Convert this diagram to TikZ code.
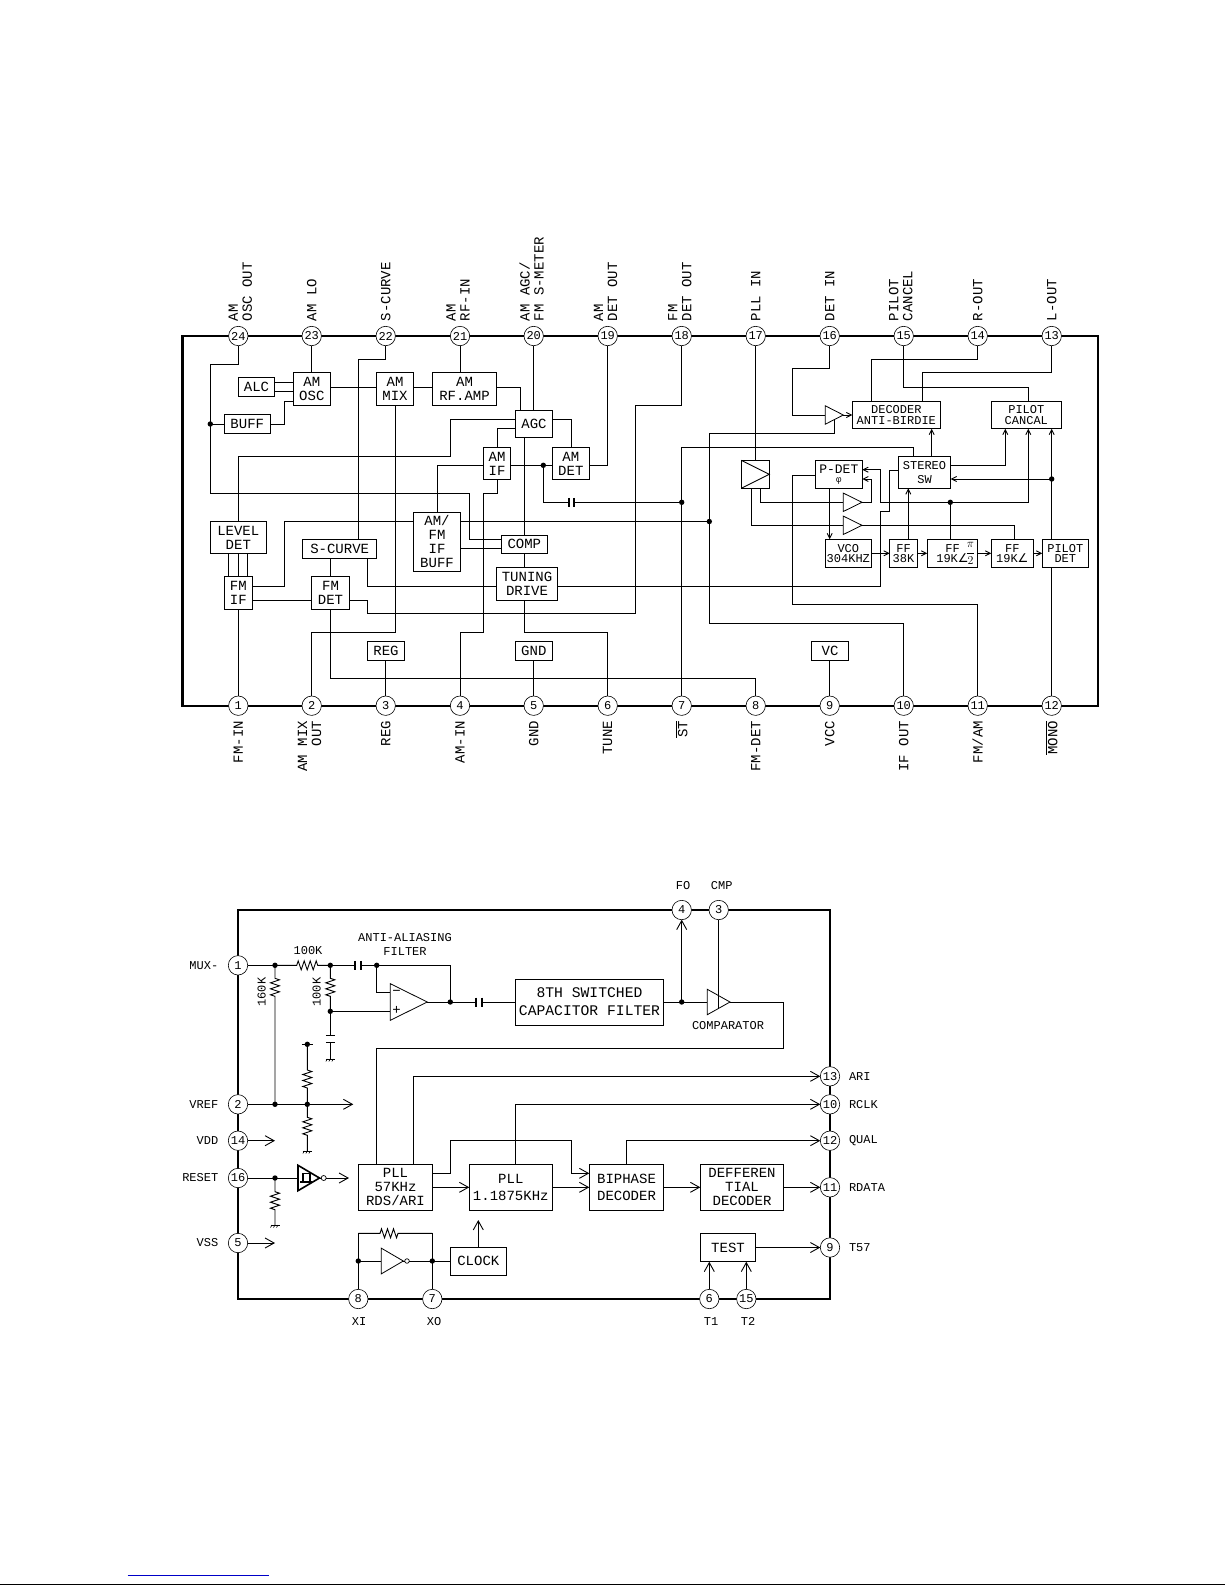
\documentclass[tikz,border=0pt]{standalone}
\usepackage{fontspec}
\setmainfont{Liberation Mono}
\newfontfamily\symfont{DejaVu Sans}
\usetikzlibrary{arrows.meta,shapes.geometric,decorations.pathmorphing}
\definecolor{LinkBlue}{RGB}{0,0,200}
\tikzset{
  fz/.style={font=\fontsize{#1}{#1}\selectfont},
  wire/.style={line width=.9pt},
  arr/.style={wire,-{Straight Barb[length=9pt,width=10pt]}},
  sarr/.style={wire,-{Straight Barb[length=5pt,width=5pt]}},
  border/.style={line width=2.1pt,line join=miter},
  blk/.style={draw,line width=.9pt,inner sep=0pt,outer sep=0pt,align=center,fz=14},
  lbl/.style={inner sep=0pt,outer sep=0pt,align=center,fz=12},
  pin/.style={circle,draw,fill=white,line width=.6pt,minimum size=19.4pt,inner sep=0pt,outer sep=0pt,fz=12},
  dot/.style={circle,fill=black,minimum size=5.4pt,inner sep=0pt,outer sep=0pt},
  tri/.style={draw,isosceles triangle,isosceles triangle stretches,inner sep=0pt,outer sep=0pt,line width=.8pt,anchor=apex},
  bubble/.style={circle,draw,fill=white,line width=.7pt,minimum size=4.6pt,inner sep=0pt,outer sep=0pt},
  capgap/.style={inner sep=0pt,outer sep=0pt},
  plate/.style={line width=2pt},
  res/.style 2 args={wire,decorate,decoration={zigzag,amplitude=4.5pt,segment length=6pt,pre length=#1pt,post length=#2pt}},
  gnd/.pic={\draw[wire] (-4.5,0) -- (4.5,0); \foreach \i in {-3,0,3} \draw[line width=.6pt] (\i,0) -- (\i-1.5,2.5);}
}
\begin{document}
\begin{tikzpicture}[x=1pt,y=-1pt]
\useasboundingbox (0,0) rectangle (1225,1585);
\draw[border] (182.5,336) rectangle (1098,705.7);
\foreach \n/\x in {24/238.3,23/311.7,22/385.7,21/460,20/533.7,19/607.7,18/681.7,17/755.7,16/829.7,15/903.7,14/977.7,13/1051.7}
  \node[pin] (p\n) at (\x,336) {\n};
\foreach \n/\x in {1/238.3,2/311.7,3/385.7,4/460,5/533.7,6/607.7,7/681.7,8/755.7,9/829.7,10/903.7,11/977.7,12/1051.7}
  \node[pin] (p\n) at (\x,705.7) {\n};
\foreach \n/\d/\t in {24/2/{AM\\OSC OUT},23/0/{AM LO},22/0/{S-CURVE},21/-2/{AM\\RF-IN},20/-2/{AM AGC/\\FM S-METER},19/-2/{AM\\DET OUT},18/-2/{FM\\DET OUT},17/0/{PLL IN},16/0/{DET IN},15/-3/{PILOT\\CANCEL},14/0/{R-OUT},13/0/{L-OUT}}
  \node[lbl,fz=14,align=left,rotate=90,anchor=west] (l\n) at ([xshift=\d pt]p\n |- 0,321) {\t};
\foreach \n/\d/\t in {1/0/{FM-IN},2/-2/{AM MIX\\OUT},3/0/{REG},4/0/{AM-IN},5/0/{GND},6/0/{TUNE},7/0/{$\overline{\hbox{ST}}$},8/0/{FM-DET},9/0/{VCC},10/0/{IF OUT},11/0/{FM/AM},12/0/{$\overline{\hbox{MONO}}$}}
  \node[lbl,fz=14,align=right,rotate=90,anchor=east] (l\n) at ([xshift=\d pt]p\n |- 0,721) {\t};
\node[blk,minimum width=36.4,minimum height=18.6] (alc) at (256.5,387) {ALC};
\node[blk,minimum width=37,minimum height=32.6] (amosc) at (311.8,389) {AM\\OSC};
\node[blk,minimum width=46,minimum height=18.6] (buff) at (247.3,424) {BUFF};
\node[blk,minimum width=36.6,minimum height=32.6] (ammix) at (395,389) {AM\\MIX};
\node[blk,minimum width=64.4,minimum height=32.6] (rfamp) at (464.5,389) {AM\\RF.AMP};
\node[blk,minimum width=37.4,minimum height=26.6] (agc) at (534,424) {AGC};
\node[blk,minimum width=27.4,minimum height=31.6] (amif) at (497,463.5) {AM\\IF};
\node[blk,minimum width=37,minimum height=31.6] (amdet) at (570.8,463.5) {AM\\DET};
\node[blk,minimum width=55.4,minimum height=31.6] (leveldet) at (238.3,537.5) {LEVEL\\DET};
\node[blk,minimum width=74,minimum height=19] (scurve) at (339.7,548.8) {S-CURVE};
\node[blk,minimum width=47.4,minimum height=59] (ifbuff) at (437,541.8) {AM/\\FM\\IF\\BUFF};
\node[blk,minimum width=46,minimum height=18] (comp) at (524.3,544.3) {COMP};
\node[blk,minimum width=61.4,minimum height=33] (tuning) at (527,583.8) {TUNING\\DRIVE};
\node[blk,minimum width=27.4,minimum height=33] (fmif) at (238.3,592.8) {FM\\IF};
\node[blk,minimum width=37.6,minimum height=33] (fmdet) at (330.5,592.8) {FM\\DET};
\node[blk,minimum width=37.4,minimum height=19] (reg) at (386,650.8) {REG};
\node[blk,minimum width=37,minimum height=19] (gnd) at (533.8,650.8) {GND};
\node[blk,minimum width=37.4,minimum height=19] (vc) at (830,650.8) {VC};
\node[blk,font=\fontsize{12}{11}\selectfont,minimum width=88,minimum height=27.4] (decoder) at (896.3,415) {DECODER\\ANTI-BIRDIE};
\node[blk,font=\fontsize{12}{11}\selectfont,minimum width=70,minimum height=27.4] (cancal) at (1026.3,415) {PILOT\\CANCAL};
\node[blk,minimum width=28,minimum height=28] (pllamp) at (755.3,474.3) {};
\draw[wire] (pllamp.north west) -- (pllamp.east) -- (pllamp.south west);
\node[blk,font=\fontsize{13}{9}\selectfont,minimum width=47,minimum height=28] (pdet) at (838.8,474.3) {P-DET\\{\fontsize{9}{9}\selectfont φ}};
\node[blk,font=\fontsize{12}{13.5}\selectfont,minimum width=52.4,minimum height=32] (stereo) at (924.5,472.3) {STEREO\\SW};
\node[blk,font=\fontsize{12}{10}\selectfont,minimum width=46,minimum height=28] (vco) at (848.3,553.3) {VCO\\304KHZ};
\node[blk,font=\fontsize{12}{10}\selectfont,minimum width=27.6,minimum height=28] (ff38) at (903.5,553.3) {FF\\38K};
\node[blk,font=\fontsize{12}{10}\selectfont,minimum width=50.4,minimum height=28] (ffquad) at (952.5,553.3) {FF\\19K{\symfont ∠}\hspace{12pt}};
\node[lbl,fz=12] (frac) at (970.5,553.3) {$\displaystyle\frac{\pi}{2}$};
\node[blk,font=\fontsize{12}{10}\selectfont,minimum width=42,minimum height=28] (ffnine) at (1012.3,553.3) {FF\\19K{\symfont ∠}};
\node[blk,font=\fontsize{12}{10}\selectfont,minimum width=46,minimum height=28] (pilotdet) at (1065.3,553.3) {PILOT\\DET\hspace{10pt}};
\node[tri,minimum width=18.4,minimum height=18] (amp16) at (843.3,415) {};
\node[tri,minimum width=18.4,minimum height=18.7] (ampa) at (862,502.3) {};
\node[tri,minimum width=18.4,minimum height=18.7] (ampb) at (862,525.3) {};
\node[dot] (dbuff) at (210.3,424) {};
\node[dot] (dam) at (543.3,465.3) {};
\node[dot] (dst) at (681.7,502.3) {};
\node[dot] (dif) at (709.3,521.5) {};
\node[dot] (dquad) at (950.3,502.3) {};
\node[dot] (dmono) at (1051.7,479) {};
\node[capgap,minimum width=5.5,minimum height=9] (capa) at (571.3,502.3) {};
\draw[plate] (capa.north west) -- (capa.south west);
\draw[plate] (capa.north east) -- (capa.south east);
\draw[wire] (p24.south) |- (210.3,364.3) -- (dbuff.center);
\draw[wire] (dbuff.center) |- (469.3,493.3) |- (comp.west |- 0,539.3);
\draw[wire] (buff.west) -- (dbuff.center);
\draw[wire] (p23.south) -- (p23 |- amosc.north);
\draw[wire] (alc.east |- 0,382.3) -- (amosc.west |- 0,382.3);
\draw[wire] (alc.east |- 0,391.7) -- (amosc.west |- 0,391.7);
\draw[wire] (buff.east) -| (284.3,401.3) -- (amosc.west |- 0,401.3);
\draw[wire] (amosc.east |- 0,387) -- (ammix.west |- 0,387);
\draw[wire] (ammix.east |- 0,387) -- (rfamp.west |- 0,387);
\draw[wire] (rfamp.east |- 0,387) -| (520.7,0 |- agc.north);
\draw[wire] (p22.south) |- (358.3,359.3) -- (358.3,0 |- scurve.north);
\draw[wire] (p21.south) -- (p21 |- rfamp.north);
\draw[wire] (p20.south) -- (p20 |- agc.north);
\draw[wire] (p19.south) |- (amdet.east |- 0,465.3);
\draw[wire] (agc.east |- 0,419.7) -| (571.3,0 |- amdet.north);
\draw[wire] (agc.west |- 0,419.7) -| (450.3,456.3) -| (leveldet.north);
\draw[wire] (agc.west |- 0,428.7) -| (amif.north);
\draw[wire] (amif.west |- 0,465.3) -| (ifbuff.north);
\draw[wire] (amif.east |- 0,465.3) -- (dam.center) -- (amdet.west |- dam);
\draw[wire] (dam.center) |- (capa.west);
\draw[wire] (capa.east) -- (dst.center);
\draw[wire] (p7.north) -- (dst.center) |- (913.7,447.7) -- (913.7,0 |- stereo.north);
\draw[wire] (p18.south) |- (635.3,405) |- (367.3,613.3) |- (fmdet.east |- 0,600.3);
\draw[wire] (ifbuff.west |- 0,521.7) -| (284.3,586.3) -- (fmif.east |- 0,586.3);
\draw[wire] (ifbuff.east |- dif) -- (dif.center);
\draw[wire] (p10.north) |- (dif |- 0,623.3) -- (dif.center) |- (834.3,433.3) -- (834.3,0 |- amp16.right side);
\draw[wire] (p16.south) |- (792.3,368.3) |- (amp16.lower side);
\draw[sarr] (amp16.apex) -- (decoder.west);
\draw[wire] (p17.south) -- (p17 |- pllamp.north);
\draw[wire] (760.3,0 |- pllamp.south) |- (ampa.lower side);
\draw[wire] (751.3,0 |- pllamp.south) |- (ampb.lower side);
\draw[sarr] (ampa.apex) -| (871.3,479) -- (pdet.east |- 0,479);
\draw[sarr] (dquad.center) -| (1028.3,0 |- cancal.south);
\draw[sarr] (dquad.center) -| (880.3,469.7) -- (pdet.east |- 0,469.7);
\draw[wire] (dquad.center) -- (dquad |- ffquad.north);
\draw[wire] (stereo.west |- 0,470.3) -| (889.7,511.7) -| (880.3,586.3) -- (tuning.east |- 0,586.3);
\draw[wire] (tuning.west |- 0,586.3) -| (367.3,0 |- scurve.south);
\draw[wire] (fmdet.north) -- (fmdet.north |- scurve.south);
\draw[wire] (fmif.east |- 0,600.3) -- (fmdet.west |- 0,600.3);
\foreach \x in {228.3,238.3,247.3}
  \draw[wire] (\x,0 |- leveldet.south) -- (\x,0 |- fmif.north);
\draw[wire] (fmif.south) -- (p1.north);
\draw[wire] (p2.north) |- (395.3,632.3) -- (395.3,0 |- ammix.south);
\draw[wire] (p4.north) |- (483.3,632.3) |- (amif.south |- 0,493.3) -- (amif.south);
\draw[wire] (p6.north) |- (524.3,632.3) -- (524.3,0 |- tuning.south);
\draw[wire] (comp.south) -- (comp.south |- tuning.north);
\draw[wire] (comp |- agc.south) -- (comp.north);
\draw[wire] (ifbuff.east |- 0,548.3) -- (comp.west |- 0,548.3);
\draw[wire] (fmdet.south) |- (p8.north |- 0,678.3) -- (p8.north);
\draw[wire] (p3 |- reg.south) -- (p3.north);
\draw[wire] (p5 |- gnd.south) -- (p5.north);
\draw[wire] (p9 |- vc.south) -- (p9.north);
\draw[wire] (p11.north) |- (792.3,604.3) |- (pdet.west |- 0,475.3);
\draw[wire] (p12.north) -- (p12 |- pilotdet.south);
\draw[wire] (p12 |- pilotdet.north) -- (dmono.center);
\draw[sarr] (dmono.center) -- (p12 |- cancal.south);
\draw[sarr] (dmono.center) -- (stereo.east |- dmono);
\draw[sarr] (stereo.east |- 0,465.3) -| (1005.3,0 |- cancal.south);
\draw[sarr] (931.7,0 |- stereo.north) -- (931.7,0 |- decoder.south);
\draw[sarr] (908.3,0 |- ff38.north) -- (908.3,0 |- stereo.south);
\draw[wire] (1014.3,0 |- ffnine.north) |- (ampb.apex);
\draw[sarr] (829.7,0 |- pdet.south) -- (829.7,0 |- vco.north);
\draw[sarr] (vco.east) -- (ff38.west);
\draw[sarr] (ff38.east) -- (ffquad.west);
\draw[sarr] (ffquad.east) -- (ffnine.west);
\draw[sarr] (ffnine.east) -- (pilotdet.west);
\draw[wire] (p15.south) |- (1028.3,387) -- (1028.3,0 |- cancal.north);
\draw[wire] (p14.south) |- (871.3,359.3) -- (871.3,0 |- decoder.north);
\draw[wire] (p13.south) |- (922.3,372.3) -- (922.3,0 |- decoder.north);
\draw[border] (238,910) rectangle (830,1299);
\foreach \n/\x/\y in {1/238/965.3,2/238/1104.3,14/238/1140.7,16/238/1178,5/238/1243,8/358.3/1299,7/432.3/1299,6/709.3/1299,15/746.3/1299,4/681.7/910,3/718.7/910,13/830/1076.3,10/830/1104.3,12/830/1140.7,11/830/1187.3,9/830/1247.5}
  \node[pin] (q\n) at (\x,\y) {\n};
\foreach \n/\t in {1/MUX-,2/VREF,14/VDD,16/RESET,5/VSS}
  \node[lbl,anchor=east] (n\n) at (218.3,0 |- q\n) {\t};
\foreach \n/\t in {13/ARI,10/RCLK,12/QUAL,11/RDATA,9/T57}
  \node[lbl,anchor=west] (n\n) at (849,0 |- q\n) {\t};
\node[lbl] (n4) at (683,886) {FO};
\node[lbl] (n3) at (721.7,886) {CMP};
\node[lbl] (n8) at (359,1321.7) {XI};
\node[lbl] (n7) at (434,1321.7) {XO};
\node[lbl] (n6) at (711,1321.7) {T1};
\node[lbl] (n15) at (748,1321.7) {T2};
\node[lbl,font=\fontsize{12}{14}\selectfont] (antialias) at (405,944) {ANTI-ALIASING\\FILTER};
\node[lbl] (rtop) at (308,951) {100K};
\node[lbl,rotate=90] (rleft) at (261.7,992) {160K};
\node[lbl,rotate=90] (rmid) at (316.7,992) {100K};
\node[lbl] (cmplbl) at (728,1025.3) {COMPARATOR};
\node[blk,fz=14.7,minimum width=148.4,minimum height=46] (filter) at (589.5,1002) {8TH SWITCHED\\[3.5pt]CAPACITOR FILTER};
\node[blk,minimum width=74.4,minimum height=46] (pll57) at (395.5,1187.3) {PLL\\57KHz\\RDS/ARI};
\node[blk,minimum width=83,minimum height=46] (pll1) at (510.8,1187.3) {PLL\\[3.5pt]1.1875KHz};
\node[blk,minimum width=74.4,minimum height=46] (biphase) at (626.5,1187.3) {BIPHASE\\[3.5pt]DECODER};
\node[blk,minimum width=83.4,minimum height=46] (diff) at (742,1187.3) {DEFFEREN\\TIAL\\DECODER};
\node[blk,minimum width=55.4,minimum height=28.4] (test) at (728,1247.5) {TEST};
\node[blk,minimum width=56,minimum height=28] (clock) at (478.3,1261) {CLOCK};
\node[tri,minimum width=36.6,minimum height=37] (opamp) at (427.3,1002) {};
\node[lbl,fz=14] (minus) at (396.5,992.7) {−};
\node[lbl,fz=14] (plus) at (396.5,1010.3) {+};
\node[tri,minimum width=25.4,minimum height=22.7] (comparator) at (730,1002) {};
\node[tri,line width=1.6pt,minimum width=25.4,minimum height=21.5] (buf) at (319.5,1178) {};
\draw[line width=1.6pt] (302.7,1181.7) -- (302.7,1173.3) -- (310,1173.3) -- (310,1181.7);
\draw[line width=1.6pt] (300,1181.7) -- (312,1181.7);
\node[bubble,minimum size=5pt] (bub) at (323.7,1178) {};
\node[tri,minimum width=25.7,minimum height=22] (inv) at (403.3,1261) {};
\node[bubble] (bubinv) at (407,1261) {};
\foreach \n/\x/\y in {a/275/965.3,b/330.3/965.3,c/376.7/965.3,d/275/1104.3,e/330.3/1011.3,f/450.3/1002,g/681.7/1002,h/307.3/1104.3,i/275/1178,j/358.3/1261,k/432.3/1261,m/307.3/1044.3}
  \node[dot] (d\n) at (\x,\y) {};
\draw[wire] (301.8,1044.3) -- (312.8,1044.3);
\node[capgap,minimum width=5.5,minimum height=9] (capb) at (358,965.3) {};
\node[capgap,minimum width=5.5,minimum height=9] (capc) at (479,1002) {};
\foreach \c in {capb,capc} {
  \draw[plate] (\c.north west) -- (\c.south west);
  \draw[plate] (\c.north east) -- (\c.south east);
}
\node[capgap,minimum width=9,minimum height=6.6] (capd) at (330.3,1039) {};
\draw[wire] (capd.north west) -- (capd.north east);
\draw[wire] (capd.south west) -- (capd.south east);
\coordinate (gnda) at (330.3,1059);
\coordinate (gndb) at (307.3,1151);
\coordinate (gndc) at (275,1225);
\coordinate (vrefend) at (353.3,1104.3);
\coordinate (vddend) at (275,1140.7);
\coordinate (vssend) at (275,1243);
\coordinate (rstend) at (349,1178);
\coordinate (clkend) at (478.3,1220);
\coordinate (fbl) at (358.3,1233.3);
\coordinate (fbr) at (432.3,1233.3);
\foreach \c in {gnda,gndb,gndc}
  \pic at (\c) {gnd};
\draw[wire] (q1.east) -- (da.center);
\draw[res={21.7}{12}] (da.center) -- (db.center);
\draw[wire] (db.center) -- (capb.west);
\draw[wire] (capb.east) -- (dc.center) -| (df.center);
\draw[wire] (dc.center) |- (opamp.lower side |- 0,992.7);
\draw[res={13}{106}] (da.center) -- (dd.center);
\draw[res={13}{13}] (db.center) -- (de.center);
\draw[wire] (de.center) -- (opamp.lower side |- de);
\draw[wire] (de.center) -- (capd.north);
\draw[wire] (capd.south) -- (gnda);
\draw[wire] (opamp.apex) -- (df.center) -- (capc.west);
\draw[wire] (capc.east) -- (filter.west);
\draw[wire] (filter.east) -- (dg.center) -- (comparator.lower side);
\draw[arr] (dg.center) -- (q4.south);
\draw[wire] (q3.south) -- (q3 |- comparator.right side);
\draw[wire] (comparator.apex) -| (783.7,1048.3) -| (376.7,0 |- pll57.north);
\draw[arr] (413.3,0 |- pll57.north) |- (q13.west);
\draw[arr] (515.3,0 |- pll1.north) |- (q10.west);
\draw[arr] (pll57.east |- 0,1173.3) -| (450.3,1140.7) -| (571.3,1173.3) -- (biphase.west |- 0,1173.3);
\draw[arr] (pll57.east) -- (pll1.west);
\draw[arr] (pll1.east) -- (biphase.west);
\draw[arr] (biphase.east) -- (diff.west);
\draw[arr] (diff.east) -- (q11.west);
\draw[arr] (biphase.north) |- (q12.west);
\draw[arr] (test.east) -- (q9.west);
\draw[arr] (q6.north) -- (q6 |- test.south);
\draw[arr] (q15.north) -- (q15 |- test.south);
\draw[arr] (clock.north) -- (clkend);
\draw[arr] (q2.east) -- (vrefend);
\draw[res={25.7}{14.3}] (dm.center) -- (dh.center);
\draw[res={13}{14}] (dh.center) -- (gndb);
\draw[arr] (q14.east) -- (vddend);
\draw[arr] (q5.east) -- (vssend);
\draw[wire] (q16.east) -- (di.center) -- (buf.lower side);
\draw[wire] (buf.apex) -- (bub.west);
\draw[arr] (bub.east) -- (rstend);
\draw[res={13.7}{13.3}] (di.center) -- (gndc);
\draw[wire] (q8.north) -- (dj.center) -- (fbl);
\draw[res={21.7}{31.6}] (fbl) -- (fbr);
\draw[wire] (fbr) -- (dk.center) -- (q7.north);
\draw[wire] (dj.center) -- (inv.lower side);
\draw[wire] (inv.apex) -- (bubinv.west);
\draw[wire] (bubinv.east) -- (dk.center) -- (clock.west);
\draw[LinkBlue,line width=1pt] (127.5,1575.3) -- (269,1575.3);
\draw[line width=1.2pt] (0,1584.4) -- (1225,1584.4);
\end{tikzpicture}
\end{document}
